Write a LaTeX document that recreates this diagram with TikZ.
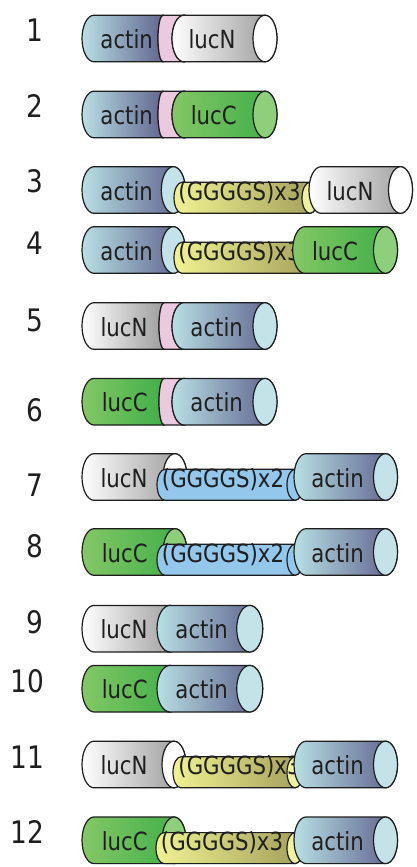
\documentclass[tikz,border=0pt]{standalone}
\usepackage{fontspec}
\setmainfont{DejaVu Sans}[FakeStretch=0.85]

\definecolor{linec}{HTML}{1E1E1E}
\definecolor{textc}{HTML}{1F1F1F}
\definecolor{actinL}{HTML}{B8DFE4}
\definecolor{actinM}{HTML}{A2C6D2}
\definecolor{actinR}{HTML}{5C5E8A}
\definecolor{actinF}{HTML}{C3E3E8}
\definecolor{lucNM}{HTML}{E6E6E6}
\definecolor{lucNR}{HTML}{979797}
\definecolor{lucCL}{HTML}{84C766}
\definecolor{lucCM}{HTML}{6CC052}
\definecolor{lucCR}{HTML}{3CAE46}
\definecolor{lucCF}{HTML}{8DCF7B}
\definecolor{pinkc}{HTML}{EBC9DF}
\definecolor{yelL}{HTML}{F0F292}
\definecolor{yelM}{HTML}{DCDC82}
\definecolor{yelR}{HTML}{A29E5A}
\definecolor{yelF}{HTML}{EEF0A2}
\definecolor{bluec}{HTML}{93C7EB}

\tikzset{
  outline/.style={draw=linec, line width=1.2pt},
  lbl/.style={anchor=base, inner sep=0pt, font=\fontsize{25}{25}\selectfont, text=textc},
  num/.style={anchor=east, inner sep=0pt, font=\fontsize{31}{31}\selectfont, text=textc},
  actinbody/.style={left color=actinL, middle color=actinM, right color=actinR},
  lucNbody/.style={left color=white, middle color=lucNM, right color=lucNR},
  lucCbody/.style={left color=lucCL, middle color=lucCM, right color=lucCR},
  yelbody/.style={left color=yelL, middle color=yelM, right color=yelR},
  bluebody/.style={fill=bluec},
  pinkbody/.style={fill=pinkc},
}

% \tubeX{left end}{face centre x}{axis y from top}{half height}{left cap radius}{body style}{face colour}{face radius}
\newcommand\tubeX[8]{%
  \path[outline, #6] (#1+#5,-#3+#4)
    arc[start angle=90, end angle=270, x radius=#5, y radius=#4]
    -- (#2,-#3-#4)
    arc[start angle=-90, end angle=90, x radius=#8, y radius=#4]
    -- cycle;
  \path[outline, fill=#7] (#2,-#3) ellipse[x radius=#8, y radius=#4];
}
% same cap radius at both ends
\newcommand\tube[7]{\tubeX{#1}{#2}{#3}{#4}{#5}{#6}{#7}{#5}}
% \lab{name}{centre x}{axis y from top}{text}
\newcommand\lab[4]{\node[lbl] (#1) at (#2,-#3-10) {#4};}

\begin{document}
\begin{tikzpicture}[x=1pt, y=1pt]
\useasboundingbox (0,0) rectangle (416,-867);
\fill[white] (0,0) rectangle (416,-867);

% row numbers
\node[num] (n1)  at (43,-30)    {1};
\node[num] (n2)  at (43,-106)   {2};
\node[num] (n3)  at (43,-181)   {3};
\node[num] (n4)  at (43,-243)   {4};
\node[num] (n5)  at (43,-320)   {5};
\node[num] (n6)  at (43,-410)   {6};
\node[num] (n7)  at (43,-485)   {7};
\node[num] (n8)  at (43,-546)   {8};
\node[num] (n9)  at (43,-622)   {9};
\node[num] (n10) at (44,-681.5) {10};
\node[num] (n11) at (44,-757)   {11};
\node[num] (n12) at (44,-831.5) {12};

% 1: actin - linker - lucN
\tubeX{82}{163}{38.5}{23.3}{12}{actinbody}{actinF}{5}
\lab{a1}{126.7}{38.5}{actin}
\tubeX{158}{184}{38.5}{23.3}{5}{pinkbody}{pinkc}{12}
\tube{172}{265}{38.5}{23.3}{12}{lucNbody}{white}
\lab{b1}{212}{38.5}{lucN}

% 2: actin - linker - lucC
\tubeX{82}{163}{114.5}{23.3}{12}{actinbody}{actinF}{5}
\lab{a2}{126.7}{114.5}{actin}
\tubeX{158}{184}{114.5}{23.3}{5}{pinkbody}{pinkc}{12}
\tube{172}{265}{114.5}{23.3}{12}{lucCbody}{lucCF}
\lab{b2}{213.7}{114.5}{lucC}

% 3: actin - (GGGGS)x3 - lucN
\tube{82}{173.3}{190}{23.3}{12}{actinbody}{actinF}
\lab{a3}{126.7}{190}{actin}
\tube{174}{310}{197.8}{15.5}{8}{yelbody}{yelF}
\lab{k3}{239.5}{190}{(GGGGS)x3}
\tube{309}{400.5}{190}{23.3}{12}{lucNbody}{white}
\lab{b3}{350}{190}{lucN}

% 4: actin - (GGGGS)x3 - lucC
\tube{82}{173.3}{250}{23.3}{12}{actinbody}{actinF}
\lab{a4}{126.7}{250}{actin}
\tube{174}{310}{257.8}{15.5}{8}{yelbody}{yelF}
\lab{k4}{239.5}{250}{(GGGGS)x3}
\tube{292.7}{385.5}{250}{23.3}{12}{lucCbody}{lucCF}
\lab{b4}{335}{250}{lucC}

% 5: lucN - linker - actin
\tubeX{82}{164}{326}{23.3}{12}{lucNbody}{white}{5}
\lab{a5}{124}{326}{lucN}
\tubeX{159}{184}{326}{23.3}{5}{pinkbody}{pinkc}{12}
\tube{172}{265}{326}{23.3}{12}{actinbody}{actinF}
\lab{b5}{216.7}{326}{actin}

% 6: lucC - linker - actin
\tubeX{82}{164}{401.7}{23.3}{12}{lucCbody}{lucCF}{5}
\lab{a6}{124.7}{401.7}{lucC}
\tubeX{159}{184}{401.7}{23.3}{5}{pinkbody}{pinkc}{12}
\tube{172}{265}{401.7}{23.3}{12}{actinbody}{actinF}
\lab{b6}{216.7}{401.7}{actin}

% 7: lucN - (GGGGS)x2 - actin
\tube{82}{175}{477}{23.3}{12}{lucNbody}{white}
\lab{a7}{124}{477}{lucN}
\tube{157}{295}{484.8}{15.5}{8}{bluebody}{bluec}
\lab{k7}{223}{477}{(GGGGS)x2}
\tube{294}{385.5}{477}{23.3}{12}{actinbody}{actinF}
\lab{b7}{337.5}{477}{actin}

% 8: lucC - (GGGGS)x2 - actin
\tube{82}{175}{552}{23.3}{12}{lucCbody}{lucCF}
\lab{a8}{124.7}{552}{lucC}
\tube{157}{295}{559.8}{15.5}{8}{bluebody}{bluec}
\lab{k8}{223}{552}{(GGGGS)x2}
\tube{294}{385.5}{552}{23.3}{12}{actinbody}{actinF}
\lab{b8}{337.5}{552}{actin}

% 9: lucN - actin
\tube{82}{170}{628.7}{23.3}{12}{lucNbody}{white}
\lab{a9}{124}{628.7}{lucN}
\tube{157}{249.7}{628.7}{23.3}{13}{actinbody}{actinF}
\lab{b9}{201.7}{628.7}{actin}

% 10: lucC - actin
\tube{82}{170}{688.7}{23.3}{12}{lucCbody}{lucCF}
\lab{a10}{124.7}{688.7}{lucC}
\tube{157}{249.7}{688.7}{23.3}{13}{actinbody}{actinF}
\lab{b10}{201.7}{688.7}{actin}

% 11: lucN - (GGGGS)x3 - actin
\tube{82}{174}{764.5}{23.3}{12}{lucNbody}{white}
\lab{a11}{124}{764.5}{lucN}
\tube{173}{295}{772.3}{15.5}{8}{yelbody}{yelF}
\lab{k11}{239.5}{764.5}{(GGGGS)x3}
\tube{294}{385.5}{764.5}{23.3}{12}{actinbody}{actinF}
\lab{b11}{337.5}{764.5}{actin}

% 12: lucC - (GGGGS)x3 - actin
\tube{82}{174}{840.3}{23.3}{12}{lucCbody}{lucCF}
\lab{a12}{124.7}{840.3}{lucC}
\tube{156}{295}{848.1}{15.5}{8}{yelbody}{yelF}
\lab{k12}{222}{840.3}{(GGGGS)x3}
\tube{294}{385.5}{840.3}{23.3}{12}{actinbody}{actinF}
\lab{b12}{337.5}{840.3}{actin}
\end{tikzpicture}
\end{document}
